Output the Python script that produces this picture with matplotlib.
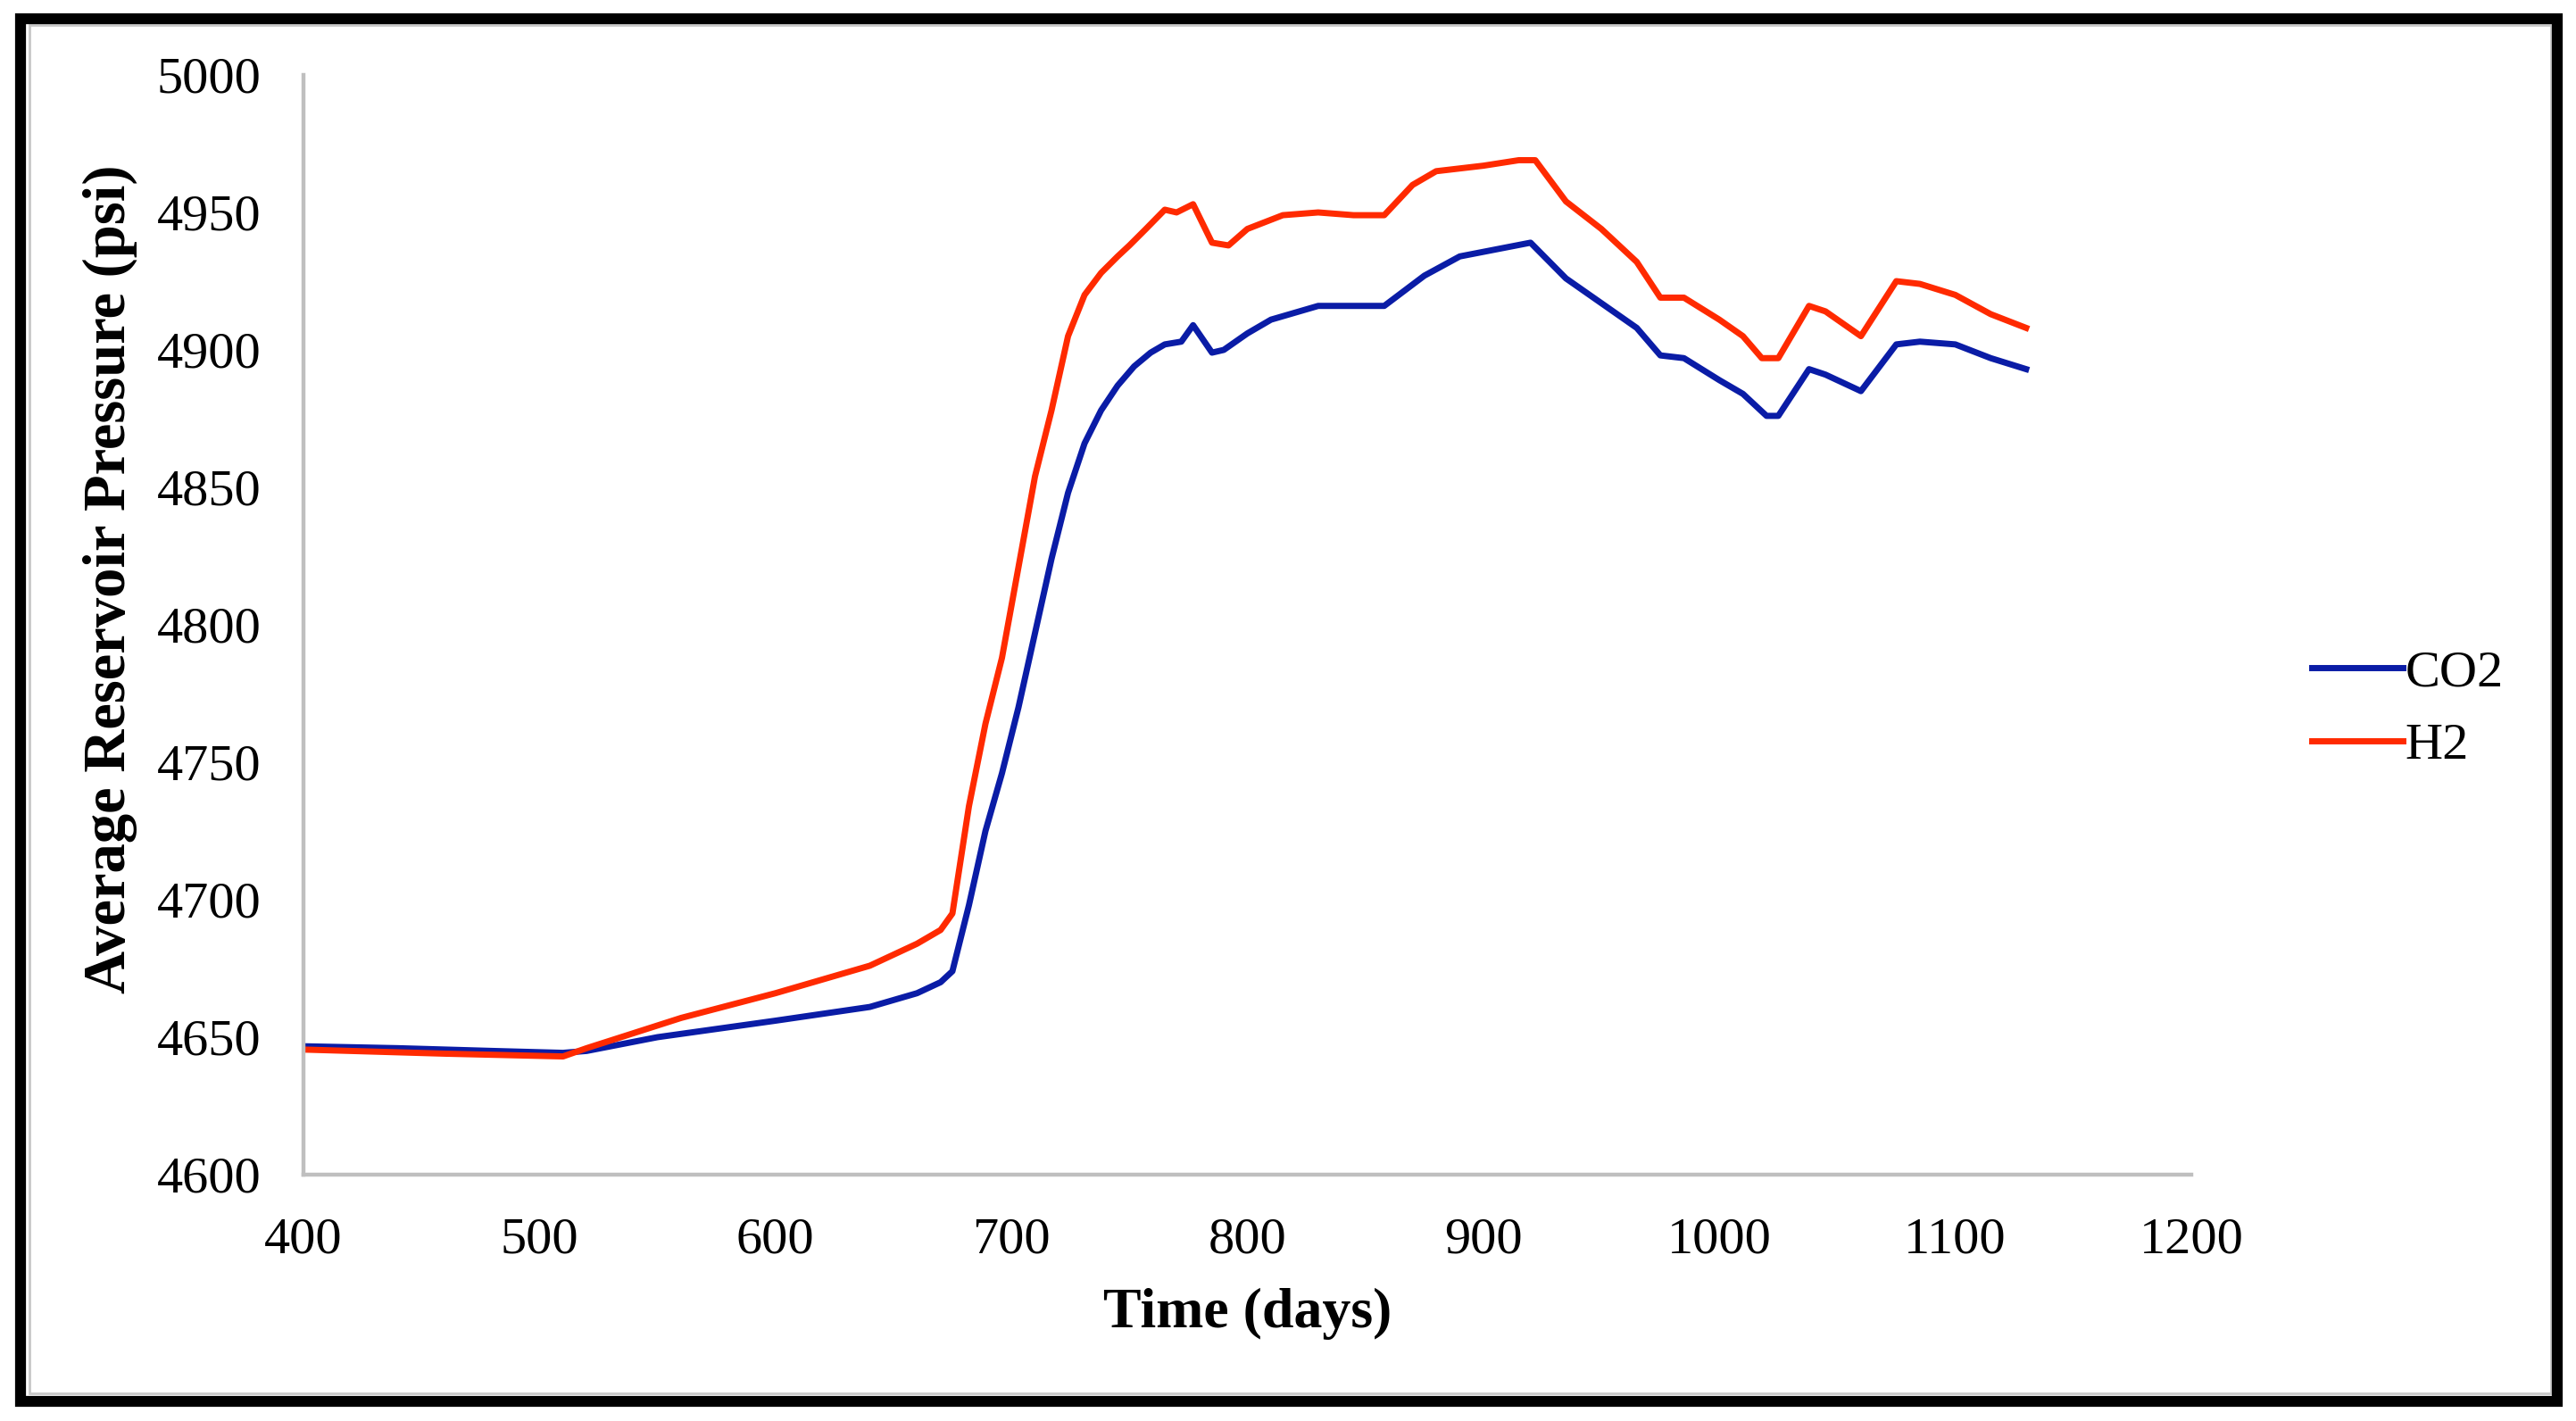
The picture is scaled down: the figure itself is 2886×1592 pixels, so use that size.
import matplotlib.pyplot as plt
from matplotlib.patches import Rectangle
import numpy as np

# values
co2_days = [400, 440, 480, 510, 520, 550, 600, 640, 660, 670, 675, 682, 689, 696,
            703, 710, 717, 724, 731, 738, 745, 752, 759, 765, 772, 777, 785, 790,
            800, 810, 830, 858, 875, 890, 920, 935, 950, 965, 975, 985, 1000, 1010,
            1020, 1025, 1038, 1045, 1060, 1075, 1085, 1100, 1115, 1130]
co2_psi = [4646.7, 4646, 4645, 4644.3, 4645, 4650, 4656, 4661, 4666, 4670, 4674,
           4698, 4725, 4746, 4770, 4797, 4824, 4848, 4866, 4878, 4887, 4894, 4899,
           4902, 4903, 4909, 4899, 4900, 4906, 4911, 4916, 4916, 4927, 4934, 4939,
           4926, 4917, 4908, 4898, 4897, 4889, 4884, 4876, 4876, 4893, 4891, 4885,
           4902, 4903, 4902, 4897, 4893]

h2_days = [400, 460, 510, 520, 560, 600, 640, 660, 670, 675, 682, 689, 696, 703,
           710, 717, 724, 731, 738, 745, 750, 757, 765, 770, 777, 785, 792, 800,
           815, 830, 845, 858, 870, 880, 900, 915, 922, 935, 950, 965, 975, 985,
           1000, 1010, 1018, 1025, 1038, 1045, 1060, 1075, 1085, 1100, 1115, 1130]
h2_psi = [4645.5, 4644, 4643, 4646, 4657, 4666, 4676, 4684, 4689, 4695, 4734,
          4764, 4788, 4821, 4854, 4878, 4905, 4920, 4928, 4934, 4938, 4944, 4951,
          4950, 4953, 4939, 4938, 4944, 4949, 4950, 4949, 4949, 4960, 4965, 4967,
          4969, 4969, 4954, 4944, 4932, 4919, 4919, 4911, 4905, 4897, 4897, 4916,
          4914, 4905, 4925, 4924, 4920, 4913, 4908]

x_ticks = [400, 500, 600, 700, 800, 900, 1000, 1100, 1200]
y_ticks = [4600, 4650, 4700, 4750, 4800, 4850, 4900, 4950, 5000]

plt.rcParams['font.family'] = ['Liberation Serif', 'DejaVu Serif']

W, H = 2886, 1592
fig = plt.figure(figsize=(W / 200, H / 200), dpi=200)
ax = fig.add_axes([340 / W, 1 - 1316 / H, (2455 - 340) / W, (1316 - 84) / H])

ax.plot(co2_days, co2_psi, color='#0A1CA6', lw=2.5, label='CO2')
ax.plot(h2_days, h2_psi, color='#FF2A00', lw=2.5, label='H2')

ax.set_xlim(400, 1200)
ax.set_ylim(4600, 5000)
ax.set_xticks(x_ticks)
ax.set_yticks(y_ticks)
ax.tick_params(length=0, labelsize=21, pad=17)

for s in ['top', 'right']:
    ax.spines[s].set_visible(False)
for s in ['left', 'bottom']:
    ax.spines[s].set_color('#BFBFBF')
    ax.spines[s].set_linewidth(1.6)

ax.set_xlabel('Time (days)', fontsize=23, fontweight='bold', labelpad=10)
ax.set_ylabel('Average Reservoir Pressure (psi)', fontsize=24, fontweight='bold')
ax.yaxis.set_label_coords(-0.088, 0.542)

ax.legend(loc='center left', bbox_to_anchor=(2537 / W, 1 - 795 / H),
          bbox_transform=fig.transFigure, frameon=False, fontsize=21,
          handlelength=1.75, handletextpad=0.05, labelspacing=0.5)

# outer frame: thin gray line inside a thick black border
fig.patches.append(Rectangle((33 / W, 1 - 1561 / H), (2858 - 33) / W, (1561 - 28) / H,
                             transform=fig.transFigure, fill=False,
                             edgecolor='#C8C8C8', lw=1.0))
fig.patches.append(Rectangle((23 / W, 1 - 1570 / H), (2865 - 23) / W, (1570 - 21) / H,
                             transform=fig.transFigure, fill=False,
                             edgecolor='black', lw=4.4))

fig.savefig('out.png', dpi=200, facecolor='white')
